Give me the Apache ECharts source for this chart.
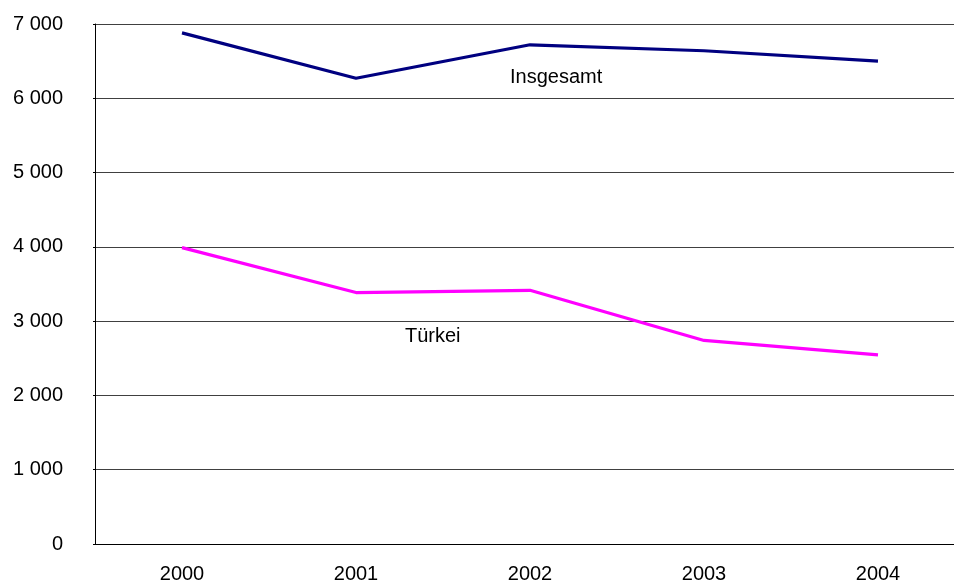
<!DOCTYPE html>
<html>
<head>
<meta charset="utf-8">
<script src="https://cdn.jsdelivr.net/npm/echarts@6/dist/echarts.min.js"></script>
<style>
html,body{margin:0;padding:0;background:#fff;overflow:hidden;width:954px;height:584px;}
#chart{width:966px;height:584px;}
</style>
</head>
<body>
<div id="chart"></div>
<script>
var categories = ['2000', '2001', '2002', '2003', '2004'];
var insgesamt = [6880, 6270, 6720, 6640, 6500];
var tuerkei = [3990, 3385, 3415, 2740, 2545];
var seriesNames = ['Insgesamt', 'Türkei'];

var chart = echarts.init(document.getElementById('chart'), null, {renderer: 'canvas'});
var font = 'Liberation Sans, Arial, sans-serif';
chart.setOption({
  animation: false,
  backgroundColor: '#ffffff',
  grid: {left: 95, top: 24, width: 870, height: 520, containLabel: false},
  xAxis: {
    type: 'category',
    data: categories,
    boundaryGap: true,
    axisLine: {show: true, lineStyle: {color: '#000', width: 1}},
    axisTick: {show: false},
    axisLabel: {color: '#000', fontSize: 20, fontFamily: font, margin: 20},
    splitLine: {show: false}
  },
  yAxis: {
    type: 'value',
    min: 0, max: 7000, interval: 1000,
    axisLine: {show: true, lineStyle: {color: '#000', width: 1}},
    axisTick: {show: true, length: 2, lineStyle: {color: '#000'}},
    axisLabel: {
      color: '#000', fontSize: 20, fontFamily: font, margin: 32,
      formatter: function (v) { return String(v).replace(/\B(?=(\d{3})+(?!\d))/g, ' '); }
    },
    splitLine: {show: true, lineStyle: {color: '#404040', width: 1}}
  },
  series: [
    {name: seriesNames[0], type: 'line', data: insgesamt, symbol: 'none',
     lineStyle: {color: '#000080', width: 3.2}, itemStyle: {color: '#000080'}},
    {name: seriesNames[1], type: 'line', data: tuerkei, symbol: 'none',
     lineStyle: {color: '#FF00FF', width: 3.2}, itemStyle: {color: '#FF00FF'}}
  ],
  graphic: [
    {type: 'text', left: 510, top: 67, style: {text: seriesNames[0], font: '20px ' + font, fill: '#000'}},
    {type: 'text', left: 405, top: 326, style: {text: seriesNames[1], font: '20px ' + font, fill: '#000'}}
  ]
});
</script>
</body>
</html>
